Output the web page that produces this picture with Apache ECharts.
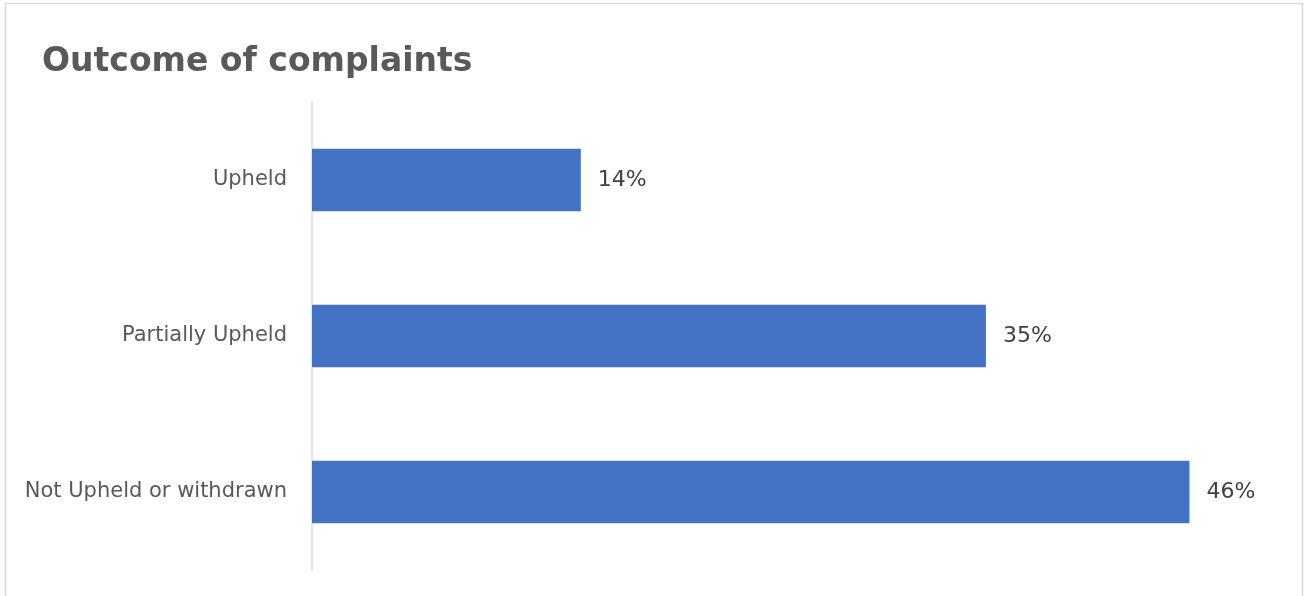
<!DOCTYPE html>
<html><head><meta charset="utf-8">
<script src="https://cdn.jsdelivr.net/npm/echarts@6/dist/echarts.min.js"></script>
<style>html,body{margin:0;padding:0;background:#fff}#c{width:1304px;height:596px}</style>
</head><body><div id="c"></div>
<script>
const categories = ["Upheld", "Partially Upheld", "Not Upheld or withdrawn"];
const values = [14.0, 35.1, 45.7];
const titleText = "Outcome of complaints";

const chart = echarts.init(document.getElementById('c'), null, {renderer: 'canvas'});
chart.setOption({
  animation: false,
  backgroundColor: '#fff',
  title: {
    text: titleText, left: 37, top: 41,
    textStyle: {fontFamily: 'DejaVu Sans', fontSize: 33, fontWeight: 'bold', color: '#595959'}
  },
  graphic: [{type: 'rect', shape: {x: 5.5, y: 3.5, width: 1297, height: 620}, style: {fill: 'none', stroke: '#d9d9d9', lineWidth: 1.5}, silent: true}],
  grid: {left: 312, right: 32, top: 102, bottom: 26, containLabel: false},
  xAxis: {type: 'value', min: 0, max: 50, show: false},
  yAxis: {
    type: 'category', data: categories, inverse: true,
    axisLine: {show: true, lineStyle: {color: '#d9d9d9', width: 1.5}},
    axisTick: {show: false},
    axisLabel: {margin: 25, fontFamily: 'DejaVu Sans', fontSize: 21, color: '#595959'}
  },
  series: [{
    type: 'bar', data: values, barCategoryGap: '60%',
    itemStyle: {color: '#4472C4'},
    label: {show: true, position: 'right', distance: 17, fontFamily: 'DejaVu Sans', fontSize: 22, color: '#404040',
      formatter: p => Math.round(p.value) + '%'}
  }]
});
</script></body></html>
